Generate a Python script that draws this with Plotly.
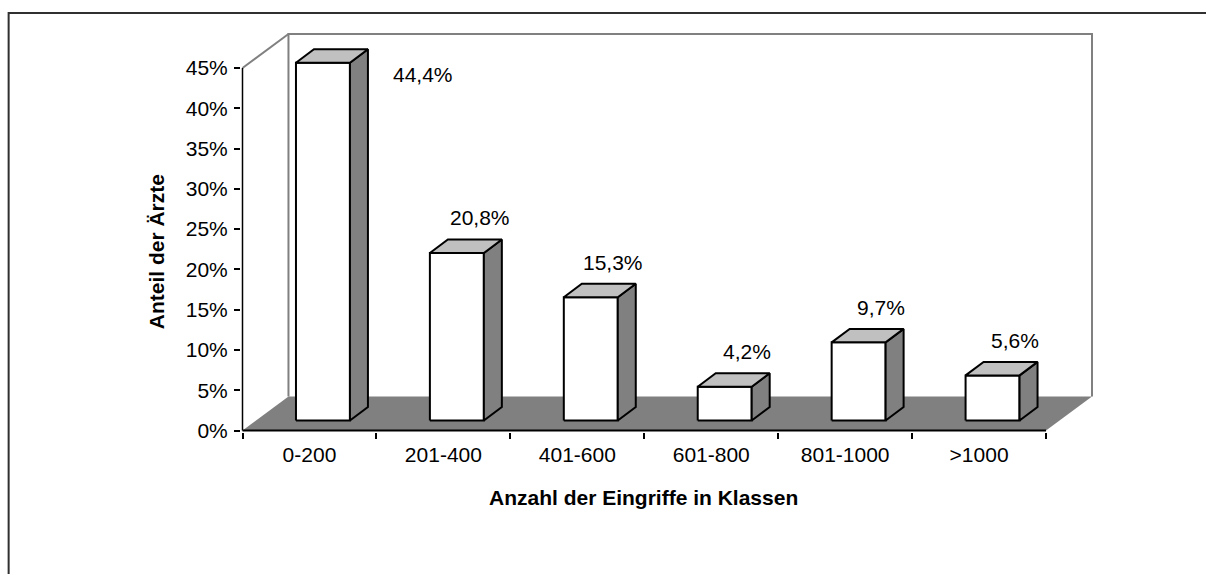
import plotly.graph_objects as go

# ---------------- data ----------------
categories = ["0-200", "201-400", "401-600", "601-800", "801-1000", ">1000"]
shares = [44.4, 20.8, 15.3, 4.2, 9.7, 5.6]          # Anteil der Ärzte in %
y_tick_values = [0, 5, 10, 15, 20, 25, 30, 35, 40, 45]
y_tick_labels = [f"{v}%" for v in y_tick_values]
x_title = "Anzahl der Eingriffe in Klassen"
y_title = "Anteil der Ärzte"

# ---------------- geometry / style ----------------
FIG_W, FIG_H = 1206, 574
FONT = "Arial, Liberation Sans, sans-serif"
PX_U = 134.0               # px per category
PX_V = 363.0 / 45.0        # px per percent
X0_PX, Y0_PX = 242, 431    # pixel of (u=0, v=0)
RIGHT_PX, TOP_PX = 1100, 20
PAD = 1.5
AXIS_MAX = 45

L = X0_PX - PAD
B = FIG_H - (Y0_PX + PAD)
R = FIG_W - RIGHT_PX
T = TOP_PX
u_range = [-PAD / PX_U, (RIGHT_PX - X0_PX) / PX_U]
v_range = [-PAD / PX_V, (Y0_PX - TOP_PX) / PX_V]

DEPTH_U, DEPTH_V = 46 / PX_U, 34 / PX_V
BAR_W = 54 / PX_U
BAR_OFF_U, BAR_OFF_V = 13.5 / PX_U, 10 / PX_V
BAR_DU, BAR_DV = 18 / PX_U, 13.5 / PX_V

GRAY = "#808080"
LIGHT = "#c0c0c0"
n = len(categories)

fig = go.Figure()


def poly(xs, ys, fill, lw=2, lc="black"):
    fig.add_trace(go.Scatter(
        x=xs + [xs[0]], y=ys + [ys[0]], mode="lines", fill="toself",
        fillcolor=fill, line=dict(color=lc, width=lw),
        hoverinfo="skip", showlegend=False))


def line(xs, ys, color, width):
    fig.add_trace(go.Scatter(
        x=xs, y=ys, mode="lines", line=dict(color=color, width=width),
        hoverinfo="skip", showlegend=False))


# floor
poly([0, n, n + DEPTH_U, DEPTH_U], [0, 0, DEPTH_V, DEPTH_V], GRAY, lw=0, lc=GRAY)
# back wall and left wall outlines
line([DEPTH_U, DEPTH_U, n + DEPTH_U, n + DEPTH_U],
     [DEPTH_V, AXIS_MAX + DEPTH_V, AXIS_MAX + DEPTH_V, DEPTH_V], GRAY, 2)
line([0, DEPTH_U], [AXIS_MAX, AXIS_MAX + DEPTH_V], GRAY, 2)

# bars
annotations = []
for i, (cat, h) in enumerate(zip(categories, shares)):
    cx = i + 0.5 + BAR_OFF_U
    x0, x1 = cx - BAR_W / 2, cx + BAR_W / 2
    yb, yt = BAR_OFF_V, BAR_OFF_V + h
    poly([x0, x1, x1, x0], [yb, yb, yt, yt], "white")
    poly([x1, x1 + BAR_DU, x1 + BAR_DU, x1], [yb, yb + BAR_DV, yt + BAR_DV, yt], GRAY)
    poly([x0, x1, x1 + BAR_DU, x0 + BAR_DU], [yt, yt, yt + BAR_DV, yt + BAR_DV], LIGHT)

    label = f"{h:.1f}".replace(".", ",") + "%"
    ly = h + 5.6
    lx = i + 0.5 + 0.27
    if ly > AXIS_MAX + DEPTH_V:          # no room above: place beside the bar
        ly = h - 0.2
        lx = x1 + BAR_DU + 0.41
    annotations.append(dict(x=lx, y=ly, xref="x", yref="y", text=label,
                            xanchor="center", yanchor="middle", showarrow=False,
                            font=dict(size=21, color="black", family=FONT)))

# front axis lines
line([0, n], [0, 0], "black", 2)
line([0, 0], [0, AXIS_MAX], "black", 1.5)

W = FIG_W - L - R
H = FIG_H - T - B


def px_x(px):
    return (px - L) / W


def px_y(py):
    return (FIG_H - B - py) / H


annotations.append(dict(x=px_x(156), y=px_y(252), xref="paper", yref="paper",
                        xanchor="center", yanchor="middle",
                        text=f"<b>{y_title}</b>", textangle=-90, showarrow=False,
                        font=dict(size=21, color="black", family=FONT)))
annotations.append(dict(x=px_x(643), y=px_y(498), xref="paper", yref="paper",
                        xanchor="center", yanchor="middle",
                        text=f"<b>{x_title}</b>", showarrow=False,
                        font=dict(size=21, color="black", family=FONT)))

fig.update_layout(
    width=FIG_W, height=FIG_H,
    margin=dict(l=L, r=R, t=T, b=B, pad=0),
    paper_bgcolor="white", plot_bgcolor="rgba(0,0,0,0)",
    font=dict(family=FONT, size=21, color="black"),
    annotations=annotations,
    shapes=[dict(type="rect", xref="paper", yref="paper",
                 x0=px_x(8), x1=px_x(1230), y0=px_y(13), y1=px_y(600),
                 line=dict(color="#303030", width=2), layer="below")],
    xaxis=dict(range=u_range, showgrid=False, zeroline=False, showline=False,
               tickmode="array", tickvals=[i + 0.5 for i in range(n)],
               ticktext=categories, ticks="", ticklabelstandoff=8,
               minor=dict(tickmode="array", tickvals=list(range(n + 1)),
                          ticks="outside", ticklen=6, tickcolor="black", tickwidth=1.5),
               fixedrange=True),
    yaxis=dict(range=v_range, showgrid=False, zeroline=False, showline=False,
               tickmode="array", tickvals=y_tick_values, ticktext=y_tick_labels,
               ticks="outside", ticklen=6, tickcolor="black", tickwidth=1.5,
               ticklabelstandoff=2, fixedrange=True),
)

fig.write_html("out.html", config={"displayModeBar": False},
               post_script="document.body.style.margin='0';document.body.style.overflow='hidden';")
